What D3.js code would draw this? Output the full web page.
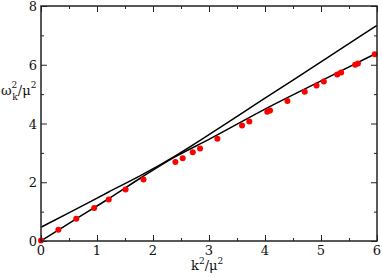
<!DOCTYPE html>
<html>
<head>
<meta charset="utf-8">
<script src="https://cdn.jsdelivr.net/npm/d3@7"></script>
<style>
  body { margin: 0; background: #fff; }
</style>
</head>
<body>
<svg id="chart" width="382" height="277"></svg>
<script>
// measured points (k^2/mu^2, omega_k^2/mu^2)
const kPts = [0, 0.31, 0.63, 0.95, 1.21, 1.51, 1.83, 2.40, 2.53, 2.71, 2.84, 3.15,
  3.59, 3.72, 4.04, 4.09, 4.40, 4.71, 4.92, 5.05, 5.29, 5.36, 5.61, 5.66, 5.96];
const wPts = [0.02, 0.38, 0.76, 1.12, 1.41, 1.75, 2.09, 2.69, 2.82, 3.02, 3.15, 3.48,
  3.93, 4.07, 4.40, 4.44, 4.77, 5.08, 5.29, 5.43, 5.67, 5.74, 6.00, 6.04, 6.36];

// two model curves
const curveK = [0, 0.6, 1.2, 1.8, 2.4, 3.0, 4.0, 5.0, 6.0];
const curveA = [0.47, 1.06, 1.66, 2.25, 2.90, 3.62, 4.86, 6.10, 7.34];
const curveB = [0, 0.72, 1.43, 2.17, 2.87, 3.46, 4.49, 5.45, 6.40];

const xTicks = [0, 1, 2, 3, 4, 5, 6];
const yTicks = [0, 2, 4, 6, 8];

const svg = d3.select('#chart');
const plotL = 41, plotR = 377, plotT = 6, plotB = 241;

const x = d3.scaleLinear().domain([0, 6]).range([plotL, plotR]);
const y = d3.scaleLinear().domain([0, 8]).range([plotB, plotT]);

const axisColor = '#222';
const serif = 'DejaVu Serif';

// ticks (inward, all four sides)
function drawTicks(axisGen, tx, ty) {
  const g = svg.append('g').attr('transform', `translate(${tx},${ty})`).call(axisGen);
  g.select('.domain').remove();
  g.selectAll('line').attr('stroke', axisColor).attr('stroke-width', 1);
  g.selectAll('text').remove();
  return g;
}
const xMinor = d3.range(0.5, 6, 1);
const yMinor = d3.range(1, 8, 2);

drawTicks(d3.axisTop(x).tickValues(xTicks).tickSize(6), 0, plotB);
drawTicks(d3.axisTop(x).tickValues(xMinor).tickSize(3), 0, plotB);
drawTicks(d3.axisBottom(x).tickValues(xTicks).tickSize(6), 0, plotT);
drawTicks(d3.axisBottom(x).tickValues(xMinor).tickSize(3), 0, plotT);
drawTicks(d3.axisRight(y).tickValues(yTicks).tickSize(6), plotL, 0);
drawTicks(d3.axisRight(y).tickValues(yMinor).tickSize(3), plotL, 0);
drawTicks(d3.axisLeft(y).tickValues(yTicks).tickSize(6), plotR, 0);
drawTicks(d3.axisLeft(y).tickValues(yMinor).tickSize(3), plotR, 0);

// tick labels
svg.append('g').selectAll('text').data(xTicks).join('text')
  .attr('x', d => x(d)).attr('y', 255)
  .attr('text-anchor', 'middle').attr('font-size', 13).attr('fill', '#111')
  .attr('font-family', serif)
  .text(d => d);
svg.append('g').selectAll('text').data(yTicks).join('text')
  .attr('x', 37).attr('y', d => y(d) + 5)
  .attr('text-anchor', 'end').attr('font-size', 13).attr('fill', '#111')
  .attr('font-family', serif)
  .text(d => d);

// curves
const line = d3.line().x(d => x(d[0])).y(d => y(d[1])).curve(d3.curveMonotoneX);
[curveA, curveB].forEach(vals => {
  svg.append('path')
    .datum(curveK.map((k, i) => [k, vals[i]]))
    .attr('d', line)
    .attr('fill', 'none').attr('stroke', '#000').attr('stroke-width', 1.5);
});

// data points
svg.append('g').selectAll('circle').data(kPts.map((k, i) => [k, wPts[i]])).join('circle')
  .attr('cx', d => x(d[0])).attr('cy', d => y(d[1])).attr('r', 3)
  .attr('fill', '#f00');

// frame
svg.append('rect')
  .attr('x', plotL).attr('y', plotT).attr('width', plotR - plotL).attr('height', plotB - plotT)
  .attr('fill', 'none').attr('stroke', axisColor).attr('stroke-width', 1.5);

// axis labels
const xl = svg.append('text').attr('x', 191).attr('y', 270).attr('font-size', 13)
  .attr('fill', '#111').attr('font-family', serif);
xl.append('tspan').text('k');
xl.append('tspan').attr('font-size', 9).attr('dy', -6).text('2');
xl.append('tspan').attr('dy', 6).text('/μ');
xl.append('tspan').attr('font-size', 9).attr('dy', -6).text('2');

const yl = svg.append('text').attr('x', 1).attr('y', 95).attr('font-size', 13)
  .attr('fill', '#111').attr('font-family', serif);
yl.append('tspan').text('ω');
yl.append('tspan').attr('font-size', 9).attr('dy', -7).text('2');
yl.append('tspan').attr('font-size', 9).attr('dx', -5).attr('dy', 12).text('k');
yl.append('tspan').attr('dy', -5).text('/μ');
yl.append('tspan').attr('font-size', 9).attr('dy', -7).text('2');
</script>
</body>
</html>
